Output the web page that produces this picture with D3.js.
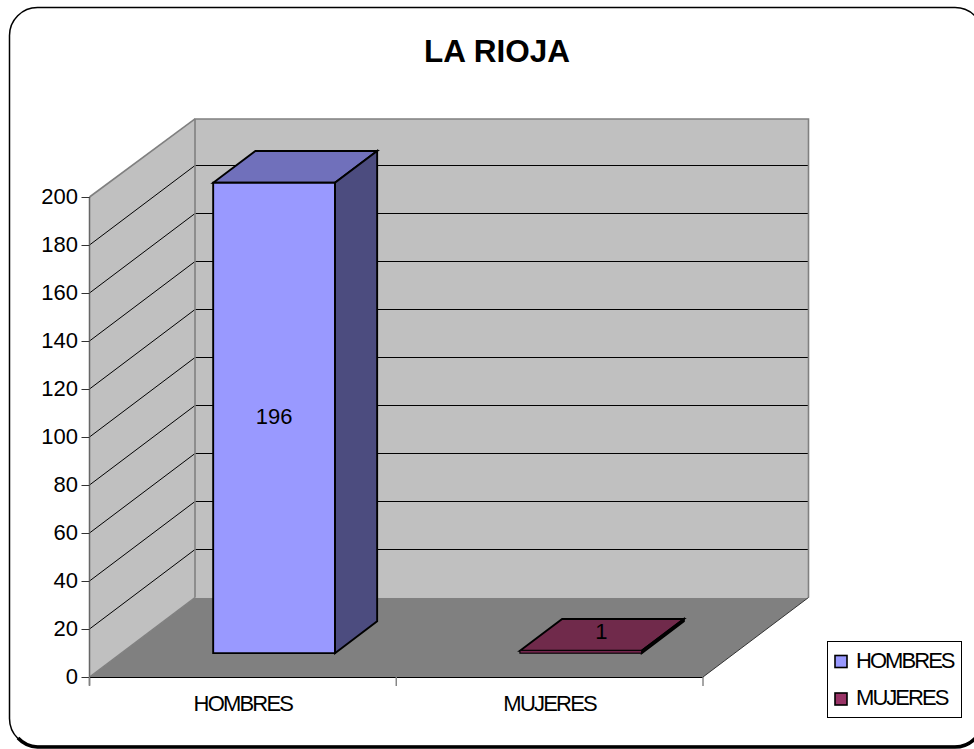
<!DOCTYPE html>
<html><head><meta charset="utf-8">
<script src="https://cdnjs.cloudflare.com/ajax/libs/d3/7.8.5/d3.min.js"></script>
<style>html,body{margin:0;padding:0;background:#fff}svg{display:block}text{font-family:"Liberation Sans",Arial,sans-serif;fill:#000}</style>
</head><body><div id="c"></div>
<script>
const titleText = "LA RIOJA";
const categories = ["HOMBRES", "MUJERES"];
const values = [196, 1];
const yTicks = [0,20,40,60,80,100,120,140,160,180,200];
const frontColors = ["#9999ff", "#993366"];
const topColors = ["#7070bb", "#702a4b"];
const sideColors = ["#4c4c7f", "#4c1933"];

const W = 974, H = 749;
const svg = d3.select("#c").append("svg").attr("width", W).attr("height", H);

const x = d3.scaleBand().domain(categories).range([89.5, 703]);
const y = d3.scaleLinear().domain([0, 200]).range([677, 197]);
const depthX = d3.scaleLinear().domain([0, 1]).range([0, 105.5]);
const depthY = d3.scaleLinear().domain([0, 1]).range([0, -79.5]);
const inner = d3.scaleLinear().domain([0, 1]).range([0, x.bandwidth()]);
const line = d3.line();
const P = (px, v, z) => [px + depthX(z), y(v) + depthY(z)];
const poly = (pts, fill, stroke, sw) => svg.append("path").attr("d", line(pts) + "Z")
  .attr("fill", fill).attr("stroke", stroke || "none").attr("stroke-width", sw || 0).attr("stroke-linejoin", "miter");

// frame
svg.append("rect").attr("x", 9.5).attr("y", 7.5).attr("width", 973.5).attr("height", 739).attr("rx", 28).attr("ry", 28)
  .attr("fill", "#fff").attr("stroke", "#000").attr("stroke-width", 1.5);
svg.append("path").attr("d", "M18 738A28 28 0 0 0 37.5 747H955A28 28 0 0 0 983 719").attr("fill", "none").attr("stroke", "#000").attr("stroke-width", 3.5);

svg.append("text").attr("x", 497).attr("y", 61.5).attr("text-anchor", "middle")
  .attr("font-size", 31.5).attr("font-weight", "bold").text(titleText);

const x0 = x.range()[0], x1 = x.range()[1];
const wallTop = 199.4;
// floor
poly([P(x0,0,0), P(x1,0,0), P(x1,0,1), P(x0,0,1)], "#808080");
// side wall
poly([P(x0,0,0), P(x0,0,1), P(x0,wallTop,1), P(x0,200,0)], "#c0c0c0");
// back wall
poly([P(x0,0,1), P(x1,0,1), P(x1,wallTop,1), P(x0,wallTop,1)], "#c0c0c0");

// gridlines
yTicks.slice(1, -1).forEach(t => {
  const a = P(x0,t,0), b = P(x0,t,1), c = P(x1,t,1);
  svg.append("path").attr("d", line([a, b])).attr("fill","none").attr("stroke","#000").attr("stroke-width",1);
  svg.append("path").attr("d", line([[b[0],Math.floor(b[1])+.5],[c[0],Math.floor(c[1])+.5]])).attr("fill","none").attr("stroke","#000").attr("stroke-width",1);
});
// wall outlines
const gray = "#808080";
svg.append("path").attr("d", line([P(x0,0,1), P(x0,wallTop,1), P(x1,wallTop,1), P(x1,0,1)])).attr("fill","none").attr("stroke",gray).attr("stroke-width",1.6);
svg.append("path").attr("d", line([P(x0,200,0), P(x0,wallTop,1)])).attr("fill","none").attr("stroke",gray).attr("stroke-width",1.6);
svg.append("path").attr("d", line([P(x0,0,0), P(x0,0,1)])).attr("fill","none").attr("stroke",gray).attr("stroke-width",1.4);
svg.append("path").attr("d", line([P(x1,0,0), P(x1,0,1)])).attr("fill","none").attr("stroke","#333").attr("stroke-width",1);

// bars
const zA = 0.3, zB = 0.7;
categories.forEach((c, i) => {
  const a = x(c) + inner(0.3), b = x(c) + inner(0.697), v = values[i];
  poly([P(a,v,zA), P(b,v,zA), P(b,v,zB), P(a,v,zB)], topColors[i], "#000", 1.9);
  poly([P(b,0,zA), P(b,0,zB), P(b,v,zB), P(b,v,zA)], sideColors[i], "#000", 1.9);
  poly([P(a,0,zA), P(b,0,zA), P(b,v,zA), P(a,v,zA)], frontColors[i], "#000", i === 0 ? 1.9 : 1.2);
});

// axes
svg.append("path").attr("d", line([[x0,y(200)],[x0,685.5]])).attr("stroke","#666").attr("stroke-width",1.5).attr("fill","none");
svg.append("path").attr("d", line([[x0,y(0)+.5],[x1,y(0)+.5]])).attr("stroke","#000").attr("stroke-width",1).attr("fill","none");
yTicks.forEach(t => {
  const ty = Math.round(y(t)) + .5;
  svg.append("line").attr("x1",x0-8).attr("x2",x0).attr("y1",ty).attr("y2",ty).attr("stroke","#333").attr("stroke-width",1);
  svg.append("text").attr("x",78).attr("y",y(t)+7).attr("text-anchor","end").attr("font-size",22).text(t);
});
[...categories.map(c => x(c)), x1].forEach(px => {
  svg.append("line").attr("x1",px).attr("x2",px).attr("y1",677).attr("y2",686).attr("stroke",gray).attr("stroke-width",1.4);
});
categories.forEach(c => {
  svg.append("text").attr("x", x(c)+x.bandwidth()/2).attr("y",710.5).attr("text-anchor","middle")
    .attr("font-size",22).attr("letter-spacing",-1.8).text(c);
});
// data labels
categories.forEach((c, i) => {
  const [lx, ly] = P(x(c)+inner(0.5), values[i]/2, zA);
  svg.append("text").attr("x", i===0 ? lx-.5 : lx+20).attr("y", i===0 ? ly+6.5 : 639).attr("text-anchor","middle").attr("font-size",22).text(values[i]);
});

// legend
svg.append("rect").attr("x",827.5).attr("y",641.5).attr("width",134).attr("height",76).attr("fill","#fff").attr("stroke","#000").attr("stroke-width",1);
categories.forEach((c, i) => {
  const ly = 655.5 + i*37.5;
  svg.append("rect").attr("x",835).attr("y",ly).attr("width",12).attr("height",12).attr("fill",frontColors[i]).attr("stroke","#000").attr("stroke-width",1.6);
  svg.append("text").attr("x",856).attr("y",ly+12).attr("font-size",22).attr("letter-spacing",-1.95).text(c);
});
</script></body></html>
